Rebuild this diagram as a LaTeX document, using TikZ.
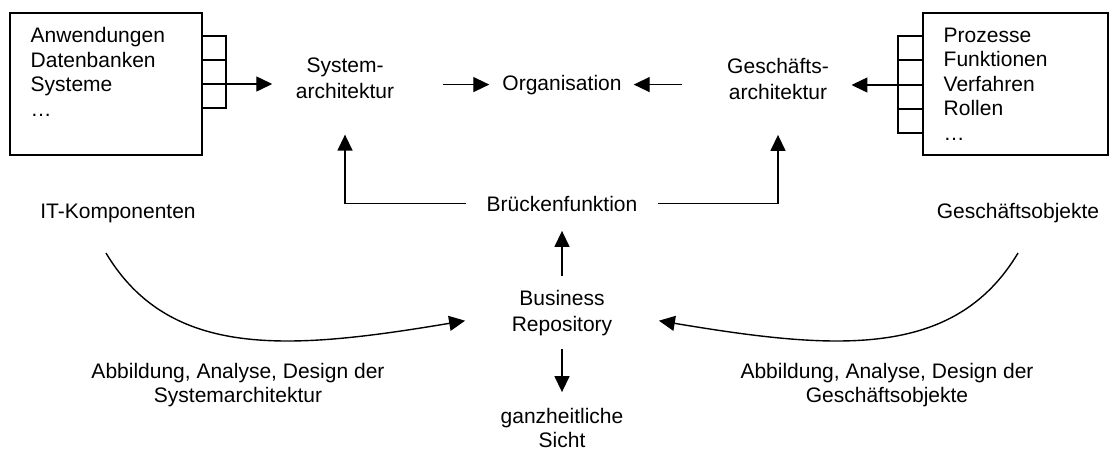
\documentclass[tikz,border=0pt]{standalone}
\usepackage{fontspec}
\setmainfont{Liberation Sans}
\usetikzlibrary{arrows.meta}

\begin{document}
\begin{tikzpicture}[x=0.5pt,y=-0.5pt,line width=0.7pt,
  txt/.style={inner sep=0pt,align=center,font=\fontsize{10.5pt}{12.25pt}\selectfont},
  weit/.style={txt,font=\fontsize{10.5pt}{13pt}\selectfont},
  liste/.style={txt,align=left,anchor=north west},
  kasten/.style={draw,inner sep=0pt},
  pfeil/.style={-{Triangle[length=8pt,width=7.5pt]}}]
  \useasboundingbox (0,0) rectangle (1109,450);
  % Kaesten links und rechts
  \node[kasten,minimum width=96pt,minimum height=71pt] (itbox) at (106,84) {};
  \node[kasten,minimum width=92.5pt,minimum height=71pt] (gobox) at (1015.5,84) {};
  \node[liste] (itliste) at (30,27) {Anwendungen\\Datenbanken\\Systeme\\…};
  \node[liste] (goliste) at (943,27) {Prozesse\\Funktionen\\Verfahren\\Rollen\\…};
  \foreach \y in {36,60,84,108} \draw (itbox.east |- 0,\y) -- ++(24,0);
  \draw (226,36) -- (226,108);
  \foreach \y in {36,60,85,109,133} \draw (gobox.west |- 0,\y) -- ++(-25,0);
  \draw (898,36) -- (898,133);
  % Texte
  \node[weit] (sysarch) at (345,78.5) {System-\\architektur};
  \node[weit] (gesarch) at (778,78.5) {Geschäfts-\\architektur};
  \node[txt,anchor=base] (org) at (562,90) {Organisation};
  \node[txt,anchor=base] (bruecke) at (562,211) {Brückenfunktion};
  \node[txt,anchor=base] (itkomp) at (118,218) {IT-Komponenten};
  \node[txt,anchor=base] (geso) at (1018,218) {Geschäftsobjekte};
  \node[weit] (repo) at (562,312.7) {Business\\Repository};
  \node[txt,font=\fontsize{10.5pt}{12pt}\selectfont] (sicht) at (562,427.5) {ganzheitliche\\Sicht};
  \node[txt,font=\fontsize{10.5pt}{12pt}\selectfont] (abbsys) at (238,384.7) {Abbildung, Analyse, Design der\\Systemarchitektur};
  \node[txt,font=\fontsize{10.5pt}{12pt}\selectfont] (abbges) at (887,384.7) {Abbildung, Analyse, Design der\\Geschäftsobjekte};
  % Pfeile
  \draw[pfeil,shorten >=11.5pt] (itbox.east |- 0,84) -- (sysarch.west |- 0,84);
  \draw[pfeil,shorten >=11pt] (gobox.west |- 0,85) -- (gesarch.east |- 0,85);
  \draw[pfeil,shorten <=24pt,shorten >=6.25pt] (sysarch.east |- org) -- (org.west);
  \draw[pfeil,shorten <=22.5pt,shorten >=5.75pt] (gesarch.west |- org) -- (org.east);
  \draw[pfeil,shorten <=10pt,shorten >=17.5pt] (bruecke.west) -| (sysarch.south);
  \draw[pfeil,shorten <=10pt,shorten >=17.5pt] (bruecke.east) -| (gesarch.south);
  \draw[pfeil,shorten <=6.5pt,shorten >=9.5pt] (repo.north) -- (bruecke.south);
  \draw[pfeil,shorten <=6.3pt,shorten >=7.5pt] (repo.south) -- (sicht.north);
  \draw[pfeil] ([xshift=-6pt,yshift=-15pt]itkomp.south) .. controls (170,360) and (290,350) .. ([xshift=-23pt,yshift=-4pt]repo.west);
  \draw[pfeil] ([yshift=-15pt]geso.south) .. controls (954,360) and (834,350) .. ([xshift=23pt,yshift=-4pt]repo.east);
\end{tikzpicture}
\end{document}
